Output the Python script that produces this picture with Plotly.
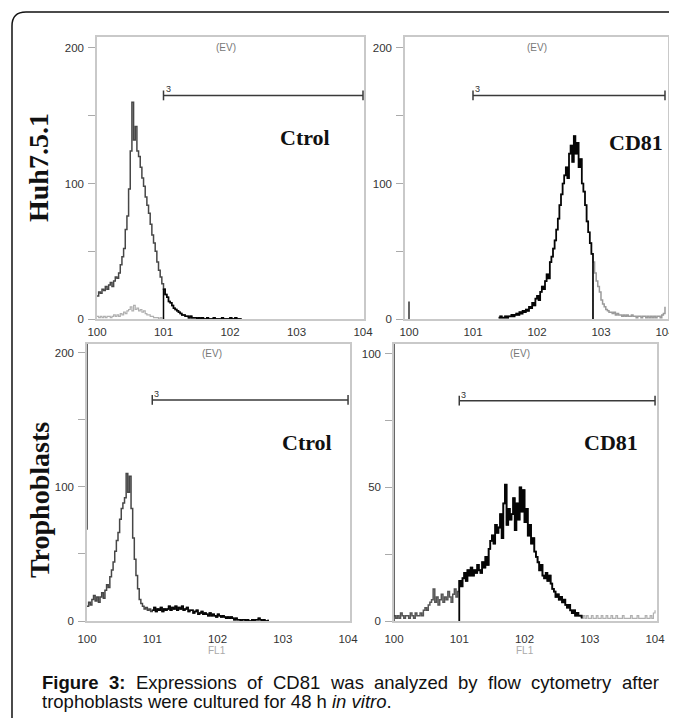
import plotly.graph_objects as go

W, H = 677, 718          # window size
OX, OY = 8, 8            # page body margin
FW, FH = W - OX, H - OY  # figure size
BIN = 0.025  # histogram channel width, in decades of FL1

# ---------------- data ----------------
x_tick_vals = [0, 1, 2, 3, 4]
x_tick_text = ["100", "101", "102", "103", "104"]

# Huh7.5.1, Ctrol
p1_ctrl_start = 0.0
p1_ctrl = [17, 20, 19, 22, 21, 24, 22, 25,
           27, 24, 28, 31, 30, 34, 40, 46,
           52, 66, 76, 96, 124, 160, 132, 142,
           124, 120, 112, 104, 98, 90, 84, 78,
           70, 62, 56, 50, 42, 36, 31, 26,
           22, 18, 16, 13, 12, 10, 8, 7,
           6, 5, 4, 3, 3, 2, 2, 1,
           2, 1, 1, 1, 0, 1, 0, 1,
           0, 0, 1, 0, 0, 0, 1, 0,
           0, 0, 0, 1, 0, 0, 0, 0,
           1, 0, 0, 1, 0, 0, 0, 0]
p1_iso_start = 0.0
p1_iso = [2, 1, 2, 1, 2, 1, 2, 2,
          1, 2, 3, 2, 3, 2, 4, 3,
          5, 4, 6, 7, 9, 6, 10, 7,
          8, 6, 7, 5, 6, 4, 3, 3,
          2, 2, 1, 1, 1, 0, 1, 0]

# Huh7.5.1, CD81
p2_cd81_start = 1.4
p2_cd81 = [1, 2, 1, 1, 2, 1, 2, 2,
           3, 2, 3, 4, 3, 5, 4, 6,
           5, 7, 6, 9, 8, 12, 10, 15,
           17, 14, 20, 24, 22, 28, 33, 30,
           42, 46, 52, 58, 66, 74, 84, 92,
           100, 106, 112, 104, 122, 128, 116, 135,
           122, 130, 112, 118, 100, 94, 84, 72,
           64, 56, 48, 42, 34, 28, 24, 20,
           14, 11, 9, 7, 6, 5, 5, 4,
           5, 3, 4, 3, 3, 2, 3, 2,
           3, 2, 2, 3, 2, 2, 1, 2,
           2, 1, 2, 2, 1, 2, 1, 2,
           1, 2, 1, 2, 2, 1, 3, 4,
           9]
p2_gate_end = 2.85
p2_first_bin = 13

# Trophoblasts, Ctrol
p3_ctrl_start = 0.0
p3_ctrl = [11, 14, 12, 16, 19, 15, 18, 14,
           18, 21, 17, 23, 27, 25, 33, 38,
           44, 52, 60, 66, 76, 84, 88, 92,
           110, 96, 108, 84, 62, 46, 34, 24,
           16, 13, 11, 9, 10, 8, 9, 7,
           8, 10, 7, 9, 8, 10, 7, 9,
           8, 9, 11, 8, 10, 9, 11, 8,
           10, 9, 11, 8, 9, 10, 7, 8,
           8, 6, 7, 8, 5, 6, 7, 5,
           6, 5, 4, 6, 4, 5, 4, 3,
           5, 4, 3, 4, 3, 2, 3, 2,
           3, 2, 1, 2, 1, 1, 0, 1,
           1, 0, 1, 0, 0, 1, 0, 1,
           1, 2, 1, 0, 1, 0, 0, 1]
p3_first_bin_low, p3_first_bin_high = 68, 230

# Trophoblasts, CD81
p4_cd81_start = 0.0
p4_cd81 = [2, 1, 2, 1, 3, 2, 1, 2,
           2, 1, 3, 2, 1, 3, 2, 2,
           3, 2, 4, 5, 4, 6, 7, 8,
           12, 7, 9, 6, 8, 10, 7, 9,
           8, 11, 9, 7, 10, 12, 9, 11,
           15, 13, 16, 18, 15, 19, 17, 20,
           17, 19, 18, 21, 19, 18, 22, 20,
           24, 21, 27, 30, 32, 29, 36, 33,
           35, 40, 31, 44, 51, 36, 42, 38,
           40, 46, 34, 44, 38, 50, 41, 49,
           37, 42, 32, 36, 29, 31, 26, 24,
           22, 19, 21, 17, 16, 18, 15, 17,
           14, 12, 11, 9, 10, 8, 9, 7,
           8, 6, 5, 6, 4, 3, 4, 2,
           3, 2, 2, 1]
p4_tail_start = 2.8
p4_tail = [3, 2, 2, 1, 2, 1, 2, 1,
           1, 2, 1, 1, 2, 1, 1, 2,
           1, 1, 2, 1, 1, 2, 1, 1,
           2, 1, 1, 1, 2, 1, 1, 1,
           1, 2, 1, 1, 1, 2, 1, 1,
           1, 1, 2, 1, 1, 2, 1, 3,
           4]
p4_first_bin = 130

gate_low, gate_high = 1.0, 4.0
gate_levels = [165, 165, 165, 82.5]
gate_label = "3"
panel_titles = ["Ctrol", "CD81", "Ctrol", "CD81"]
row_labels = ["Huh7.5.1", "Trophoblasts"]
caption_line1 = [("Figure", True), ("3:", True), ("Expressions", False), ("of", False),
                 ("CD81", False), ("was", False), ("analyzed", False), ("by", False),
                 ("flow", False), ("cytometry", False), ("after", False)]
caption_line2 = "trophoblasts were cultured for 48 h <i>in vitro</i>."

# ---------------- helpers ----------------
def xs_of(start, vals):
    return [round(start + i * BIN, 4) for i in range(len(vals))]

def px(x):
    return (x - OX) / FW

def py(y):
    return 1 - (y - OY) / FH

DARK = "#474747"
BLACK = "#050505"
GRAY = "#b0b0b0"
FRAME = "#c9c9c9"
TICKFONT = dict(family="Liberation Sans, Arial", size=11.5, color="#333")

# panel geometry (pixels) and ranges
panels = [
    dict(x0=97, x1=364, y0=37, y1=319, xr=[0, 4.015], yr=[0, 208.1], yt=[0, 100, 200], minor=50, stand=1),
    dict(x0=405, x1=668, y0=37, y1=319, xr=[-0.0625, 4.047], yr=[0, 208.1], yt=[0, 100, 200], minor=50, stand=1),
    dict(x0=87, x1=350, y0=344, y1=621, xr=[0, 4.03], yr=[0, 206.7], yt=[0, 100, 200], minor=50, stand=6),
    dict(x0=394, x1=657, y0=344, y1=621, xr=[0, 4.03], yr=[0, 103.7], yt=[0, 50, 100], minor=25, stand=6),
]

fig = go.Figure()
layout_axes = {}
for i, p in enumerate(panels):
    n = "" if i == 0 else str(i + 1)
    layout_axes["xaxis" + n] = dict(
        domain=[px(p["x0"]), px(p["x1"])], range=p["xr"], anchor="y" + n,
        tickvals=x_tick_vals, ticktext=x_tick_text, ticks="", showgrid=False,
        zeroline=False, showline=True, mirror=True, linecolor=FRAME, linewidth=1.5,
        tickfont=TICKFONT, ticklabelstandoff=p["stand"], fixedrange=True, automargin=False)
    layout_axes["yaxis" + n] = dict(
        domain=[py(p["y1"]), py(p["y0"])], range=p["yr"], anchor="x" + n,
        tickvals=p["yt"], ticks="outside", ticklen=7, tickcolor="#aaa", tickwidth=1,
        minor=dict(dtick=p["minor"], ticks="outside", ticklen=7, tickcolor="#aaa"),
        showgrid=False, zeroline=False, showline=True, mirror=True,
        linecolor=FRAME, linewidth=1.5,
        tickfont=TICKFONT, ticklabelstandoff=2, fixedrange=True, automargin=False)

def add_line(ax, x, y, color, width=1.5):
    n = "" if ax == 0 else str(ax + 1)
    fig.add_trace(go.Scatter(x=x, y=y, mode="lines", line=dict(color=color, width=width, shape="hv"),
                             xaxis="x" + n, yaxis="y" + n, hoverinfo="skip", showlegend=False))

# Panel 1
x1 = xs_of(p1_iso_start, p1_iso)
add_line(0, x1, p1_iso, GRAY, 1.2)
x1c = xs_of(p1_ctrl_start, p1_ctrl)
add_line(0, x1c, p1_ctrl, DARK)
gx = [x for x in x1c if x >= gate_low]
gy = p1_ctrl[len(x1c) - len(gx):]
add_line(0, [gate_low] + gx, [0] + gy, BLACK)

# Panel 2
x2 = xs_of(p2_cd81_start, p2_cd81)
add_line(1, x2, p2_cd81, "#9a9a9a")
bx = [x for x in x2 if x <= p2_gate_end]
by = p2_cd81[:len(bx)]
add_line(1, bx + [round(p2_gate_end + BIN, 4)], by + [0], BLACK, 1.7)
add_line(1, [0, 0], [0, p2_first_bin], "#333")

# Panel 3
x3 = xs_of(p3_ctrl_start, p3_ctrl)
add_line(2, x3, p3_ctrl, DARK)
gx = [x for x in x3 if x >= gate_low]
gy = p3_ctrl[len(x3) - len(gx):]
add_line(2, gx, gy, BLACK)
add_line(2, [0, 0], [p3_first_bin_low, p3_first_bin_high], "#333", 1.5)

# Panel 4
x4t = xs_of(p4_tail_start, p4_tail)
add_line(3, x4t, p4_tail, GRAY, 1.2)
x4 = xs_of(p4_cd81_start, p4_cd81)
add_line(3, x4, p4_cd81, "#555")
gx = [x for x in x4 if x >= gate_low]
gy = p4_cd81[len(x4) - len(gx):]
add_line(3, [gate_low] + gx, [0] + gy, BLACK, 1.8)
add_line(3, [0, 0], [0, p4_first_bin], "#333", 1.5)

annotations = []
# gate markers
for i, g in enumerate(gate_levels):
    n = "" if i == 0 else str(i + 1)
    fig.add_trace(go.Scatter(x=[gate_low, gate_high], y=[g, g], mode="lines+markers",
                             line=dict(color="#3a3a3a", width=1.5),
                             marker=dict(symbol="line-ns", size=7, line=dict(color="#3a3a3a", width=1.5)),
                             xaxis="x" + n, yaxis="y" + n, hoverinfo="skip", showlegend=False,
                             cliponaxis=False))
    annotations.append(dict(x=gate_low, y=g, xref="x" + n, yref="y" + n, text=gate_label,
                            showarrow=False, xanchor="left", yanchor="bottom", xshift=0, yshift=-1,
                            font=dict(family="Liberation Sans, Arial", size=9, color="#333")))

def ann(x, y, text, size, color, family="Liberation Sans, Arial", xanchor="center", angle=0):
    annotations.append(dict(x=px(x), y=py(y), xref="paper", yref="paper", text=text, showarrow=False,
                            xanchor=xanchor, yanchor="middle", textangle=angle,
                            font=dict(family=family, size=size, color=color)))

SERIF = "Liberation Serif, Times New Roman"
for (x, y) in [(226, 47), (537, 47), (212, 353), (520, 353)]:
    ann(x, y, "(EV)", 10, "#777")
for t, (x, y) in zip(panel_titles, [(305, 138), (636, 143), (307, 442), (611, 442)]):
    ann(x, y, "<b>%s</b>" % t, 22, "#111", SERIF)
for t, (x, y) in zip(row_labels, [(38, 168), (39, 500)]):
    ann(x, y, "<b>%s</b>" % t, 28, "#111", SERIF, angle=-90)
for x in [217, 525]:
    ann(x, 650, "FL1", 10, "#aaa")

# caption: first line justified between the text margins
CAP = 18.5
REG = dict(a=556, b=556, c=500, d=556, e=556, f=278, h=556, i=222, l=222, m=833, n=556, o=556,
           p=556, r=333, s=500, t=278, u=556, v=500, w=722, x=500, y=500, z=500, C=722, D=722,
           E=667)
REG.update({"8": 556, "1": 556, "4": 556, ".": 278, " ": 278})
BOLD = dict(F=611, i=278, g=611, u=611, r=389, e=556)
BOLD.update({"3": 556, ":": 333})

def word_w(w, bold):
    tab = BOLD if bold else REG
    return sum(tab.get(ch, 556) for ch in w) * CAP / 1000.0

cap_left, cap_right = 40, 657
widths = [word_w(w, b) for w, b in caption_line1]
gap = (cap_right - cap_left - sum(widths)) / (len(widths) - 1)
xcur = cap_left
for (w, b), wd in zip(caption_line1, widths):
    ann(xcur, 682, "<b>%s</b>" % w if b else w, CAP, "#111", xanchor="left")
    xcur += wd + gap
ann(cap_left, 701, caption_line2, CAP, "#111", xanchor="left")

# outer rounded frame (left and top edges visible)
frame_path = "M %f,%f L %f,%f Q %f,%f %f,%f L %f,%f" % (
    px(12), py(730), px(12), py(26), px(12), py(12), px(26), py(12), px(690), py(12))
shapes = [dict(type="path", path=frame_path, xref="paper", yref="paper",
               line=dict(color="#111", width=1.5))]

fig.update_layout(width=FW, height=FH, margin=dict(l=0, r=0, t=0, b=0, autoexpand=False),
                  paper_bgcolor="white", plot_bgcolor="white",
                  annotations=annotations, shapes=shapes, showlegend=False, **layout_axes)

fig.write_html("out.html")
